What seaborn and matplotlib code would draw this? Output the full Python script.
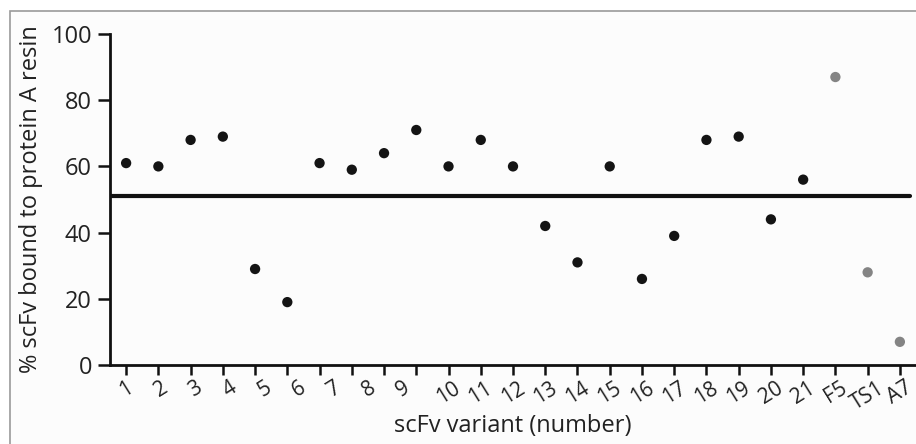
import matplotlib
matplotlib.use('Agg')
import matplotlib.pyplot as plt
from matplotlib.patches import Rectangle
import seaborn as sns
import numpy as np
import pandas as pd

# ==============================
# DATA
# ==============================
# 25 points on the plot, but only 24 printed labels (as in the original figure)
tick_labels = ['1', '2', '3', '4', '5', '6', '7', '8', '9', '10', '11', '12',
               '13', '14', '15', '16', '17', '18', '19', '20', '21', 'F5', 'TS1', 'A7']
bound_pct = [61, 60, 68, 69, 29, 19, 61, 59, 64, 71, 60, 68, 60, 42, 31,
             60, 26, 39, 68, 69, 44, 56, 87, 28, 7]
group = ['variant'] * 22 + ['control'] * 3
cutoff = 51

df = pd.DataFrame({
    'pos': np.arange(len(bound_pct)),
    'bound': bound_pct,
    'group': group,
})

# ==============================
# PLOT
# ==============================
sns.set_style('white')
plt.rcParams['font.family'] = ['Open Sans', 'DejaVu Sans']

fig = plt.figure(figsize=(9.16, 4.44), dpi=100)
fig.patch.set_facecolor('white')
# light frame around the panel
fig.patches.append(Rectangle((10 / 916, -0.1), 1.2, 1 - 11 / 444 + 0.1,
                             transform=fig.transFigure, facecolor='#fcfcfc',
                             edgecolor='#9a9a9a', linewidth=1.2, zorder=-1))

ax = fig.add_axes([110 / 916, 1 - 365 / 444, 1 - 110 / 916, (365 - 34) / 444])
ax.set_facecolor('none')

ax.axhline(cutoff, xmin=0, xmax=0.992, color='#111111', linewidth=3, zorder=1)

sns.scatterplot(data=df, x='pos', y='bound', hue='group',
                palette={'variant': '#141414', 'control': '#848484'},
                s=55, edgecolor='none', legend=False, ax=ax, zorder=3)

ax.set_xlim(-0.5, 24.5)
ax.set_ylim(0, 100)

# tick marks on every point
ax.set_xticks(np.arange(len(bound_pct)))
ax.set_xticklabels([])
ax.set_xlabel('')
ax.tick_params(axis='x', direction='out', length=7, width=1.8,
               color='#111111', bottom=True)

# labels spread as in the source figure (1-9 squeezed a little)
label_pos = list(np.linspace(0, 8.6, 9)) + list(np.arange(10, 25))
sec = ax.secondary_xaxis('bottom')
sec.set_xticks(label_pos)
sec.set_xticklabels(tick_labels, rotation=32, fontsize=15, color='#222222')
sec.tick_params(axis='x', length=0, pad=9)
sec.spines['bottom'].set_visible(False)

ax.set_yticks([0, 20, 40, 60, 80, 100])
ax.tick_params(axis='y', direction='out', length=9, width=1.8, color='#111111',
               labelsize=17, labelcolor='#222222', left=True, pad=4)

for side in ['top', 'right']:
    ax.spines[side].set_visible(False)
for side in ['left', 'bottom']:
    ax.spines[side].set_linewidth(2)
    ax.spines[side].set_color('#111111')

sec.set_xlabel('scFv variant (number)', fontsize=17, color='#222222', labelpad=0)
ax.set_ylabel('% scFv bound to protein A resin', fontsize=17, color='#222222', labelpad=6)

plt.savefig('out.png', dpi=100)
plt.close()
